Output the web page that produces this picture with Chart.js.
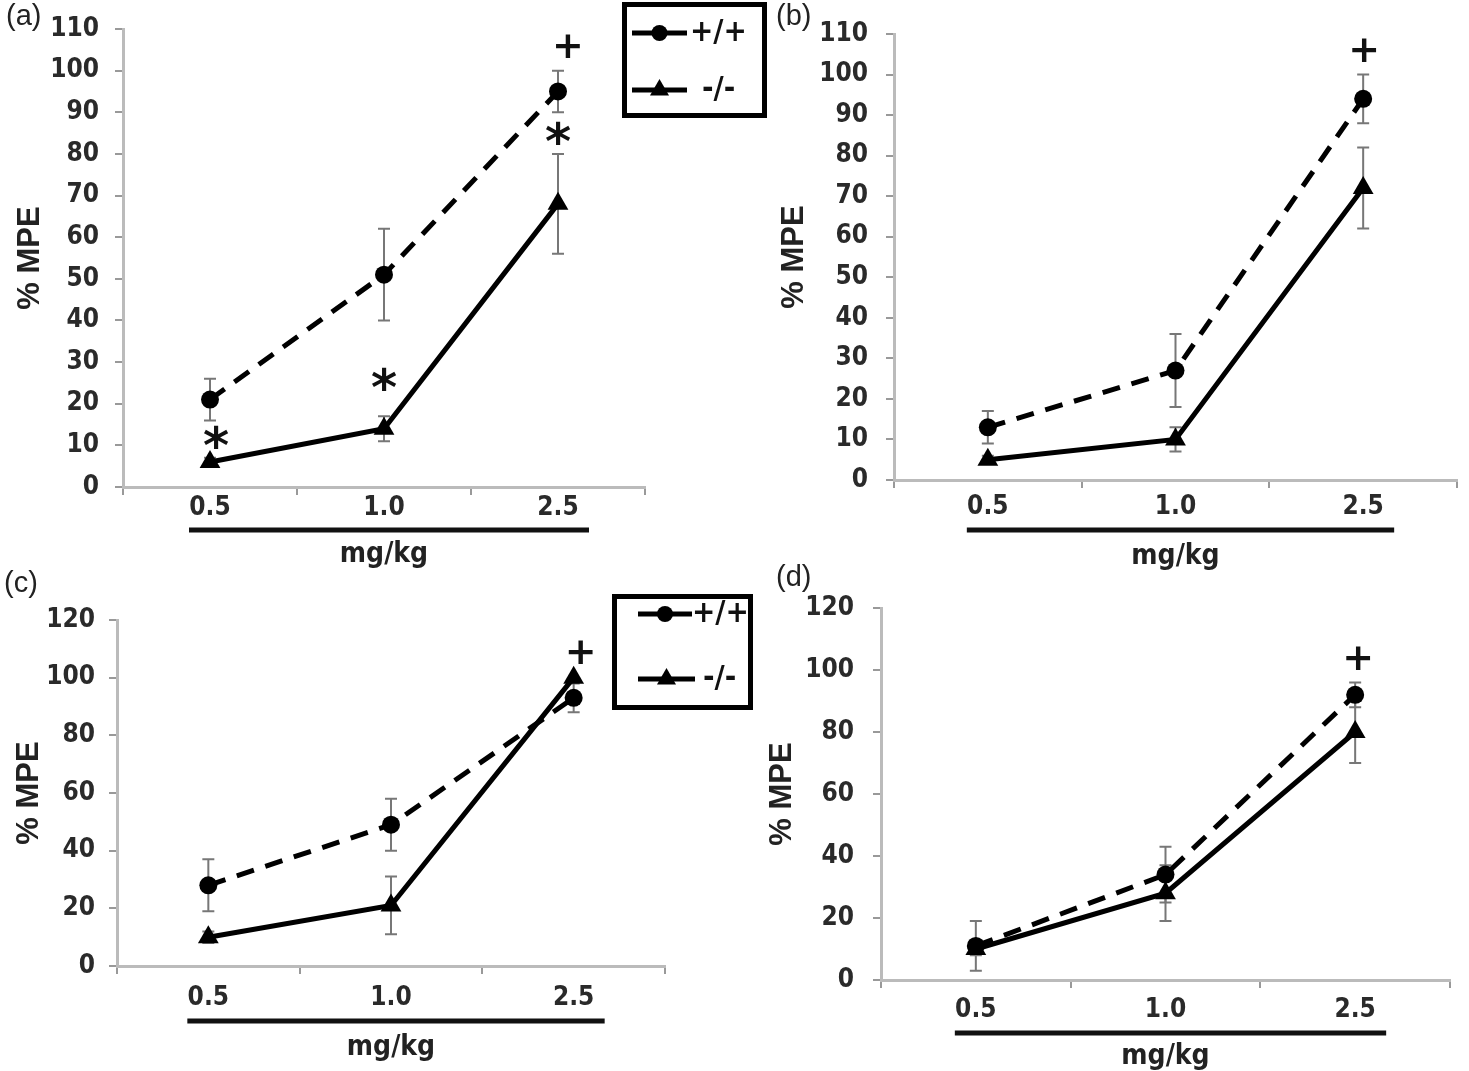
<!DOCTYPE html>
<html>
<head>
<meta charset="utf-8">
<script src="https://cdn.jsdelivr.net/npm/chart.js@4.4.1/dist/chart.umd.min.js"></script>
<style>
  html, body { margin: 0; padding: 0; background: #fff; }
  body { width: 1469px; height: 1071px; position: relative; overflow: hidden; }
  .panel { position: absolute; }
</style>
</head>
<body>
<div class="panel" style="left:0;top:0;width:770px;height:575px"><canvas id="chartA"></canvas></div>
<div class="panel" style="left:770px;top:0;width:699px;height:575px"><canvas id="chartB"></canvas></div>
<div class="panel" style="left:0;top:560px;width:770px;height:511px"><canvas id="chartC"></canvas></div>
<div class="panel" style="left:760px;top:560px;width:709px;height:511px"><canvas id="chartD"></canvas></div>
<script>
// Doses (mg/kg) and genotype names
const doses = ['0.5', '1.0', '2.5'];
const genotypes = ['+/+', '-/-'];

// Panel (a)
const aWild = [21, 51, 95];
const aWildErr = [5, 11, 5];
const aKnock = [6, 14, 68];
const aKnockErr = [1, 3, 12];
const aMarks = [['0.5', 12, '*', 6], ['1.0', 26, '*', 0], ['2.5', 85, '*', 0], ['2.5', 106, '+', 10]];

// Panel (b)
const bWild = [13, 27, 94];
const bWildErr = [4, 9, 6];
const bKnock = [5, 10, 72];
const bKnockErr = [1, 3, 10];
const bMarks = [['2.5', 106, '+', 1]];

// Panel (c)
const cWild = [28, 49, 93];
const cWildErr = [9, 9, 5];
const cKnock = [10, 21, 100];
const cKnockErr = [2, 10, 0];
const cMarks = [['2.5', 109, '+', 7]];

// Panel (d)
const dWild = [11, 34, 92];
const dWildErr = [8, 9, 4];
const dKnock = [10, 28, 80];
const dKnockErr = [2, 9, 10];
const dMarks = [['2.5', 104, '+', 3]];

const tickFont = { family: '"DejaVu Sans Condensed", "DejaVu Sans", sans-serif', size: 26, weight: 'bold', lineHeight: 1 };
const titleFont = { family: '"Liberation Sans", Arial, sans-serif', size: 31, weight: 'bold', lineHeight: 1 };

// Extras: error bars, panel letter, underline, significance marks, boxed legend
const panelExtras = {
  id: 'panelExtras',
  beforeDatasetsDraw(chart) {
    const ctx = chart.ctx, y = chart.scales.y;
    ctx.save();
    ctx.strokeStyle = '#777';
    ctx.lineWidth = 2;
    chart.data.datasets.forEach((ds, i) => {
      chart.getDatasetMeta(i).data.forEach((pt, j) => {
        const e = ds.errors[j];
        if (!e) return;
        const top = y.getPixelForValue(ds.data[j] + e);
        const bot = y.getPixelForValue(ds.data[j] - e);
        ctx.beginPath();
        ctx.moveTo(pt.x, top); ctx.lineTo(pt.x, bot);
        ctx.moveTo(pt.x - 6, top); ctx.lineTo(pt.x + 6, top);
        ctx.moveTo(pt.x - 6, bot); ctx.lineTo(pt.x + 6, bot);
        ctx.stroke();
      });
    });
    ctx.restore();
  },
  afterDraw(chart, args, opts) {
    const ctx = chart.ctx, x = chart.scales.x, y = chart.scales.y;
    ctx.save();

    // panel letter
    ctx.fillStyle = '#222';
    ctx.font = '29px "Liberation Sans", Arial, sans-serif';
    ctx.textAlign = 'left';
    ctx.textBaseline = 'middle';
    ctx.fillText(opts.letter, opts.letterPos[0], opts.letterPos[1]);

    // thick line under the dose labels
    const x0 = x.getPixelForValue(0) - 21;
    const x1 = x.getPixelForValue(doses.length - 1) + 31;
    const ly = y.bottom + opts.underline;
    ctx.strokeStyle = '#111';
    ctx.lineWidth = 5;
    ctx.beginPath(); ctx.moveTo(x0, ly); ctx.lineTo(x1, ly); ctx.stroke();

    // significance marks
    ctx.textAlign = 'center';
    ctx.textBaseline = 'alphabetic';
    opts.marks.forEach(([dose, val, sym, dx]) => {
      ctx.font = sym === '*' ? 'bold 50px "DejaVu Sans", sans-serif' : 'bold 38px "DejaVu Sans", sans-serif';
      const m = ctx.measureText(sym);
      const px = x.getPixelForValue(doses.indexOf(dose)) + dx;
      const py = y.getPixelForValue(val) + (m.actualBoundingBoxAscent - m.actualBoundingBoxDescent) / 2;
      ctx.fillStyle = '#111';
      ctx.fillText(sym, px, py);
    });

    // boxed legend
    const lg = opts.legend;
    if (lg) {
      ctx.strokeStyle = '#000';
      ctx.lineWidth = 5;
      ctx.strokeRect(lg.box[0] + 2.5, lg.box[1] + 2.5, lg.box[2] - 5, lg.box[3] - 5);
      chart.data.datasets.forEach((ds, i) => {
        const [rx0, rx1, ry, tx] = lg.rows[i];
        ctx.strokeStyle = '#000';
        ctx.lineWidth = 5;
        ctx.beginPath(); ctx.moveTo(rx0, ry); ctx.lineTo(rx1, ry); ctx.stroke();
        ctx.fillStyle = '#000';
        Chart.helpers.drawPoint(ctx, { pointStyle: ds.pointStyle, radius: ds.pointRadius - 1, borderWidth: 0 }, (rx0 + rx1) / 2, ry);
        ctx.font = 'bold 31px "DejaVu Sans Condensed", "DejaVu Sans", sans-serif';
        ctx.textAlign = 'left';
        ctx.textBaseline = 'middle';
        ctx.fillStyle = '#111';
        ctx.fillText(ds.label, tx, ry);
      });
    }
    ctx.restore();
  }
};

function createPanel(id, wild, wildErr, knock, knockErr, marks, yMax, step, lay) {
  return new Chart(document.getElementById(id), {
    type: 'line',
    data: {
      labels: doses,
      datasets: [{
        label: genotypes[0],
        data: wild,
        errors: wildErr,
        borderColor: '#000',
        borderWidth: 5,
        borderDash: [18, 12],
        pointStyle: 'circle',
        pointRadius: 9,
        pointBackgroundColor: '#000',
        pointBorderWidth: 0,
        tension: 0
      }, {
        label: genotypes[1],
        data: knock,
        errors: knockErr,
        borderColor: '#000',
        borderWidth: 5,
        pointStyle: 'triangle',
        pointRadius: 12,
        pointBackgroundColor: '#000',
        pointBorderWidth: 0,
        tension: 0
      }]
    },
    options: {
      responsive: true,
      maintainAspectRatio: false,
      animation: false,
      layout: { padding: { top: lay.top, right: lay.right, left: 0, bottom: 0 } },
      plugins: {
        legend: { display: false },
        tooltip: { enabled: false },
        panelExtras: {
          letter: lay.letter,
          letterPos: lay.letterPos,
          underline: lay.underline,
          marks,
          legend: lay.legend
        }
      },
      scales: {
        x: {
          type: 'category',
          offset: true,
          grid: { drawOnChartArea: false, offset: true, tickLength: 8, color: '#999', lineWidth: 2 },
          border: { color: '#bbb', width: 3 },
          ticks: { font: tickFont, color: '#2a2a2a', padding: lay.xTickPad, maxRotation: 0 },
          title: { display: true, text: 'mg/kg', font: { ...tickFont, size: 28 }, color: '#222', padding: { top: 0, bottom: lay.xTitlePad } },
          afterFit: s => { s.height = lay.xHeight; }
        },
        y: {
          min: 0,
          max: yMax,
          grid: { drawOnChartArea: false, tickLength: 8, color: '#999', lineWidth: 2 },
          border: { color: '#bbb', width: 3 },
          ticks: { stepSize: step, font: tickFont, color: '#2a2a2a', padding: lay.yTickPad },
          title: { display: true, text: '% MPE', font: titleFont, color: '#222', padding: { top: lay.yTitlePad, bottom: 0 } },
          afterFit: s => { s.width = lay.yWidth; }
        }
      }
    },
    plugins: [panelExtras]
  });
}

createPanel('chartA', aWild, aWildErr, aKnock, aKnockErr, aMarks, 110, 10, {
  top: 19, right: 125, yWidth: 123, xHeight: 88, yTickPad: 16, xTickPad: 0,
  yTitlePad: 15, xTitlePad: 6, underline: 43, letter: '(a)', letterPos: [6, 17],
  legend: { box: [622, 2, 145, 116], rows: [[632, 687, 33, 690], [632, 687, 90, 702]] }
});

createPanel('chartB', bWild, bWildErr, bKnock, bKnockErr, bMarks, 110, 10, {
  top: 34, right: 3, yWidth: 124, xHeight: 95, yTickPad: 18, xTickPad: 6,
  yTitlePad: 9, xTitlePad: 4, underline: 50, letter: '(b)', letterPos: [6, 17]
});

createPanel('chartC', cWild, cWildErr, cKnock, cKnockErr, cMarks, 120, 20, {
  top: 60, right: 105, yWidth: 117, xHeight: 105, yTickPad: 14, xTickPad: 11,
  yTitlePad: 14, xTitlePad: 9, underline: 55, letter: '(c)', letterPos: [4, 24],
  legend: { box: [612, 34, 141, 116], rows: [[638, 692, 54, 692], [638, 695, 119, 703]] }
});

createPanel('chartD', dWild, dWildErr, dKnock, dKnockErr, dMarks, 120, 20, {
  top: 48, right: 19, yWidth: 121, xHeight: 91, yTickPad: 19, xTickPad: 9,
  yTitlePad: 7, xTitlePad: 0, underline: 53, letter: '(d)', letterPos: [16, 18]
});
</script>
</body>
</html>
